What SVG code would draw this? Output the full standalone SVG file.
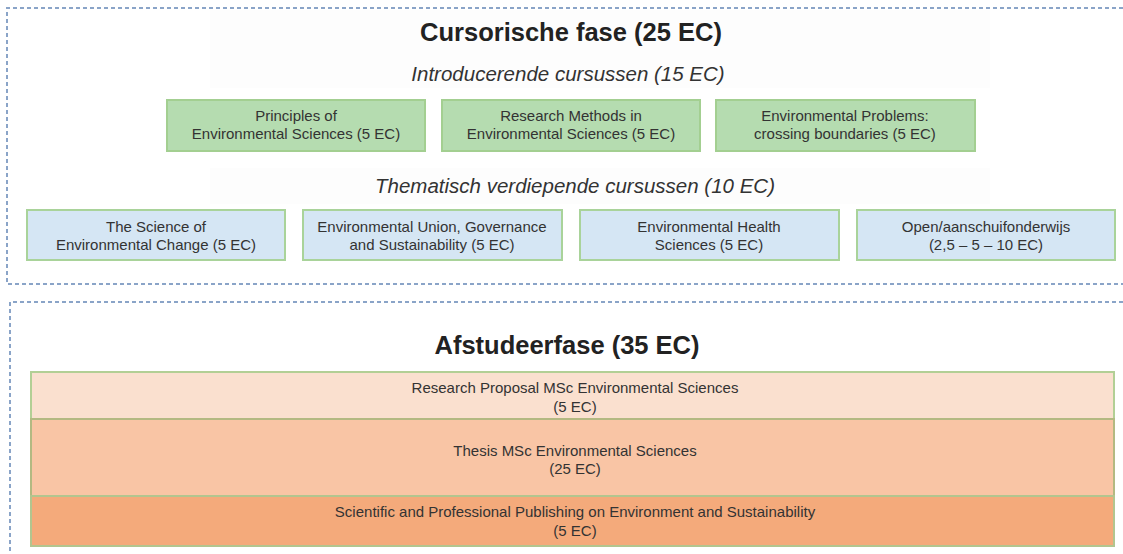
<svg xmlns="http://www.w3.org/2000/svg" width="1123" height="554" viewBox="0 0 1123 554">
<style>
.frame{fill:none;stroke:#8aa4c8;stroke-width:2;stroke-dasharray:4 3}
.green{fill:#b5dcb0;stroke:#a3cf91;stroke-width:2}
.blue{fill:#d5e6f4;stroke:#a9d39a;stroke-width:2}
.o1{fill:#fae0cf;stroke:#b2cf95;stroke-width:2}
.o2{fill:#f9c5a5;stroke:#b3b982;stroke-width:2}
.o3{fill:#f4aa7b;stroke:#b2c58f;stroke-width:2}
text{font-family:"Liberation Sans",Arial,sans-serif;fill:#333;text-anchor:middle}
.t{font-size:15px}
.h{font-size:25.5px;font-weight:bold;fill:#222}
.s{font-size:20.5px;font-style:italic}
</style>
<rect width="1123" height="554" fill="#fff"/>
<g id="frames">
<path class="frame" d="M1123 8H7V284H1123"/>
<path class="frame" d="M1123 302H10V554"/>
</g>
<g id="headings">
<rect x="210" y="10" width="780" height="78" fill="#fdfdfd"/>
<rect x="210" y="168" width="780" height="36" fill="#fdfdfd"/>
<text class="h" x="571" y="41">Cursorische fase (25 EC)</text>
<text class="s" x="568" y="81">Introducerende cursussen (15 EC)</text>
<text class="s" x="575" y="193">Thematisch verdiepende cursussen (10 EC)</text>
<text class="h" x="567" y="354">Afstudeerfase (35 EC)</text>
</g>
<g id="principles"><rect class="green" x="167" y="100" width="258" height="51"/><text class="t" x="296" y="121">Principles of</text><text class="t" x="296" y="139">Environmental Sciences (5 EC)</text></g>
<g id="research-methods"><rect class="green" x="442" y="100" width="258" height="51"/><text class="t" x="571" y="121">Research Methods in</text><text class="t" x="571" y="139">Environmental Sciences (5 EC)</text></g>
<g id="env-problems"><rect class="green" x="716" y="100" width="259" height="51"/><text class="t" x="845" y="121">Environmental Problems:</text><text class="t" x="845" y="139">crossing boundaries (5 EC)</text></g>
<g id="science-change"><rect class="blue" x="27" y="210" width="258" height="50"/><text class="t" x="156" y="232">The Science of</text><text class="t" x="156" y="250">Environmental Change (5 EC)</text></g>
<g id="env-union"><rect class="blue" x="303" y="210" width="259" height="50"/><text class="t" x="432" y="232">Environmental Union, Governance</text><text class="t" x="432" y="250">and Sustainability (5 EC)</text></g>
<g id="env-health"><rect class="blue" x="580" y="210" width="259" height="50"/><text class="t" x="709" y="232">Environmental Health</text><text class="t" x="709" y="250">Sciences (5 EC)</text></g>
<g id="open"><rect class="blue" x="857" y="210" width="258" height="50"/><text class="t" x="986" y="232">Open/aanschuifonderwijs</text><text class="t" x="986" y="250">(2,5 – 5 – 10 EC)</text></g>
<g id="proposal"><rect class="o1" x="31" y="372" width="1083" height="47"/><text class="t" x="575" y="393">Research Proposal MSc Environmental Sciences</text><text class="t" x="575" y="412">(5 EC)</text></g>
<g id="thesis"><rect class="o2" x="31" y="419" width="1083" height="77"/><text class="t" x="575" y="456">Thesis MSc Environmental Sciences</text><text class="t" x="575" y="474">(25 EC)</text></g>
<g id="publishing"><rect class="o3" x="31" y="496" width="1083" height="50"/><text class="t" x="575" y="517">Scientific and Professional Publishing on Environment and Sustainability</text><text class="t" x="575" y="536">(5 EC)</text></g>
<g id="connectors"></g>
</svg>
